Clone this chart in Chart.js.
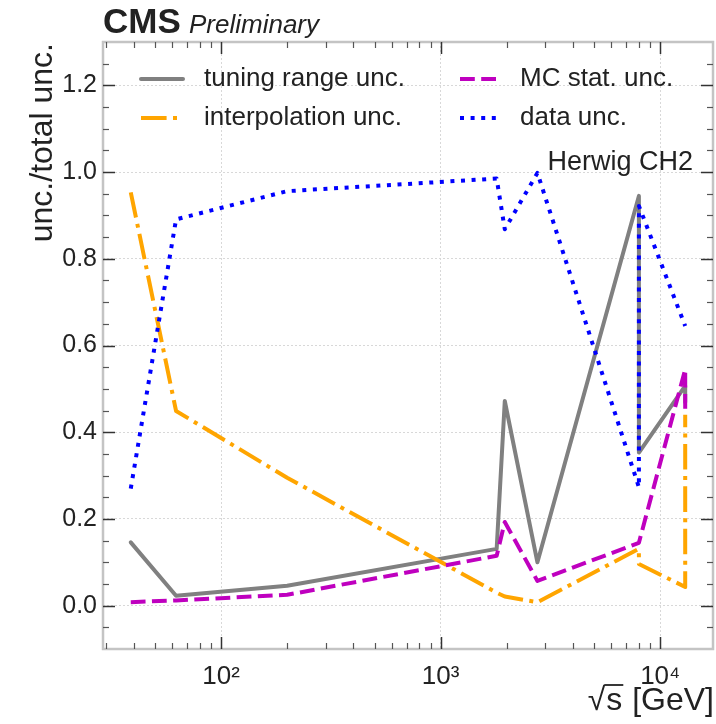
<!DOCTYPE html>
<html><head><meta charset="utf-8">
<script src="https://cdn.jsdelivr.net/npm/chart.js@4"></script>
<style>html,body{margin:0;padding:0;background:#fff;} canvas{display:block;}</style>
</head><body>
<canvas id="c" width="716" height="724"></canvas>
<script>
// ---- data ----
const sqrtS            = [38.8, 62.4, 200, 1800, 1960, 2760, 8000, 8000, 13000, 13000];
const tuningRangeUnc   = [0.146, 0.023, 0.046, 0.131, 0.472, 0.100, 0.945, 0.353, 0.507, 0.469];
const interpolationUnc = [0.953, 0.449, 0.295, 0.030, 0.021, 0.008, 0.131, 0.096, 0.043, 0.440];
const mcStatUnc        = [0.008, 0.012, 0.025, 0.115, 0.193, 0.057, 0.145, 0.145, 0.545, 0.440];
const dataUnc          = [0.270, 0.891, 0.956, 0.985, 0.868, 0.998, 0.273, 0.922, 0.645, 0.645];
const seriesLabels = ['tuning range unc.', 'interpolation unc.', 'MC stat. unc.', 'data unc.'];
const xTickValues = [100, 1000, 10000];
const xTickLabels = ['10\u00B2', '10\u00B3', '10\u2074'];
const yTickValues = [0, 0.2, 0.4, 0.6, 0.8, 1.0, 1.2];
const yTickLabels = ['0.0', '0.2', '0.4', '0.6', '0.8', '1.0', '1.2'];
const xTitle = ' [GeV]';
const yTitle = 'unc./total unc.';
const annotationText = 'Herwig CH2';
const expText = 'CMS';
const statusText = 'Preliminary';

const FONT = "'Liberation Sans', Arial, Helvetica, sans-serif";
const toPoints = ys => sqrtS.map((x, i) => ({x: x, y: ys[i]}));

const datasets = [
  {label: seriesLabels[0], data: toPoints(tuningRangeUnc), borderColor: '#808080', borderWidth: 4,
   borderDash: [], borderCapStyle: 'round', borderJoinStyle: 'round', order: 4},
  {label: seriesLabels[1], data: toPoints(interpolationUnc), borderColor: '#FFA500', borderWidth: 4,
   borderDash: [25.6, 6.4, 4, 6.4], borderCapStyle: 'butt', borderJoinStyle: 'round', order: 3},
  {label: seriesLabels[2], data: toPoints(mcStatUnc), borderColor: '#BF00BF', borderWidth: 4,
   borderDash: [14.8, 6.4], borderCapStyle: 'butt', borderJoinStyle: 'round', order: 2},
  {label: seriesLabels[3], data: toPoints(dataUnc), borderColor: '#0000FF', borderWidth: 4,
   borderDash: [4, 6.6], borderCapStyle: 'butt', borderJoinStyle: 'round', order: 1}
];
datasets.forEach(d => { d.pointRadius = 0; d.pointHoverRadius = 0; d.tension = 0; d.fill = false; });

const decor = {
  id: 'decor',
  afterDraw(chart) {
    const ctx = chart.ctx, a = chart.chartArea;
    const xs = chart.scales.x, ys = chart.scales.y;
    ctx.save();
    // frame
    ctx.strokeStyle = '#c4c4c4'; ctx.lineWidth = 2.5; ctx.setLineDash([]);
    ctx.strokeRect(a.left, a.top, a.right - a.left, a.bottom - a.top);
    // inward ticks
    const tick = (x1, y1, x2, y2, w, c) => {
      ctx.beginPath(); ctx.strokeStyle = c; ctx.lineWidth = w;
      ctx.moveTo(x1, y1); ctx.lineTo(x2, y2); ctx.stroke();
    };
    for (let d = 10; d <= 100000; d *= 10) {
      for (let k = 1; k <= 9; k++) {
        const v = k * d;
        if (v <= xs.min || v >= xs.max) continue;
        const px = Math.round(xs.getPixelForValue(v)) + 0.5;
        const major = k === 1;
        const L = major ? 12 : 6;
        tick(px, a.bottom, px, a.bottom - L, major ? 1.5 : 1.2, major ? '#333' : '#555');
        tick(px, a.top, px, a.top + L, major ? 1.5 : 1.2, major ? '#333' : '#555');
      }
    }
    for (let i = -2; i <= 26; i++) {
      const v = i * 0.05;
      if (v <= ys.min + 1e-9 || v >= ys.max - 1e-9) continue;
      const py = Math.round(ys.getPixelForValue(v)) + 0.5;
      const major = (i % 4 === 0);
      const L = major ? 12 : 6;
      tick(a.left, py, a.left + L, py, major ? 1.5 : 1.2, major ? '#333' : '#555');
      tick(a.right, py, a.right - L, py, major ? 1.5 : 1.2, major ? '#333' : '#555');
    }
    ctx.fillStyle = '#222';
    // CMS label
    ctx.textAlign = 'left'; ctx.textBaseline = 'alphabetic';
    ctx.font = 'bold 35px ' + FONT;
    ctx.fillText(expText, a.left, 33);
    ctx.font = 'italic 26px ' + FONT;
    ctx.fillText(statusText, 189, 33);
    // annotation
    ctx.font = '27px ' + FONT; ctx.textAlign = 'right';
    ctx.fillText(annotationText, 693, 170);
    // y title
    ctx.save();
    ctx.translate(52, a.top + 1); ctx.rotate(-Math.PI / 2);
    ctx.font = '32px ' + FONT; ctx.textAlign = 'right'; ctx.textBaseline = 'alphabetic';
    ctx.fillText(yTitle, 0, 0);
    ctx.restore();
    // x title  sqrt(s) [GeV]
    ctx.font = '32px ' + FONT; ctx.textAlign = 'left'; ctx.textBaseline = 'alphabetic';
    const base = 710, right = 714;
    const wG = ctx.measureText(xTitle).width, wS = ctx.measureText('s').width, wR = ctx.measureText('\u221A').width;
    const x0 = right - wG - wS - wR - 2;
    ctx.fillText('\u221A', x0, base);
    ctx.fillText('s', x0 + wR + 1, base);
    ctx.fillText(xTitle, x0 + wR + wS + 2, base);
    tick(x0 + wR - 1, base - 25, x0 + wR + wS + 2, base - 25, 1.8, '#222');
    // legend
    const cols = [{x1: 141, x2: 183, tx: 204}, {x1: 460, x2: 500, tx: 520}];
    const rows = [79, 118];
    chart.data.datasets.forEach((ds, i) => {
      const c = cols[i < 2 ? 0 : 1], y = rows[i % 2];
      ctx.beginPath();
      ctx.strokeStyle = ds.borderColor; ctx.lineWidth = ds.borderWidth;
      ctx.lineCap = ds.borderCapStyle; ctx.setLineDash(ds.borderDash || []);
      ctx.moveTo(c.x1, y); ctx.lineTo(c.x2, y); ctx.stroke();
      ctx.setLineDash([]);
      ctx.fillStyle = '#222'; ctx.font = '26px ' + FONT; ctx.textAlign = 'left'; ctx.textBaseline = 'middle';
      ctx.fillText(ds.label, c.tx, y);
    });
    ctx.restore();
  }
};

new Chart(document.getElementById('c'), {
  type: 'line',
  data: {datasets: datasets},
  options: {
    responsive: false, animation: false, devicePixelRatio: 1,
    layout: {padding: {top: 42, right: 3, left: 0, bottom: 0}},
    plugins: {legend: {display: false}, tooltip: {enabled: false}},
    scales: {
      x: {
        type: 'logarithmic', min: 29, max: 17400,
        afterBuildTicks: s => { s.ticks = xTickValues.map(v => ({value: v, major: true})); },
        afterFit: s => { s.height = 75; },
        ticks: {autoSkip: false, maxRotation: 0, minRotation: 0, padding: 12, color: '#222',
          font: {family: FONT, size: 26},
          callback: v => { const i = xTickValues.indexOf(v); return i >= 0 ? xTickLabels[i] : ''; }},
        grid: {color: '#d8d8d8', lineWidth: 1, drawTicks: false},
        border: {display: false, dash: [2, 2]}
      },
      y: {
        type: 'linear', min: -0.1, max: 1.3,
        afterBuildTicks: s => { s.ticks = yTickValues.map(v => ({value: v})); },
        afterFit: s => { s.width = 103; },
        ticks: {padding: 6, color: '#222', font: {family: FONT, size: 25},
          callback: v => { const i = yTickValues.findIndex(t => Math.abs(t - v) < 1e-9); return i >= 0 ? yTickLabels[i] : ''; }},
        grid: {color: '#d8d8d8', lineWidth: 1, drawTicks: false},
        border: {display: false, dash: [2, 2]}
      }
    }
  },
  plugins: [decor]
});
</script>
</body></html>
